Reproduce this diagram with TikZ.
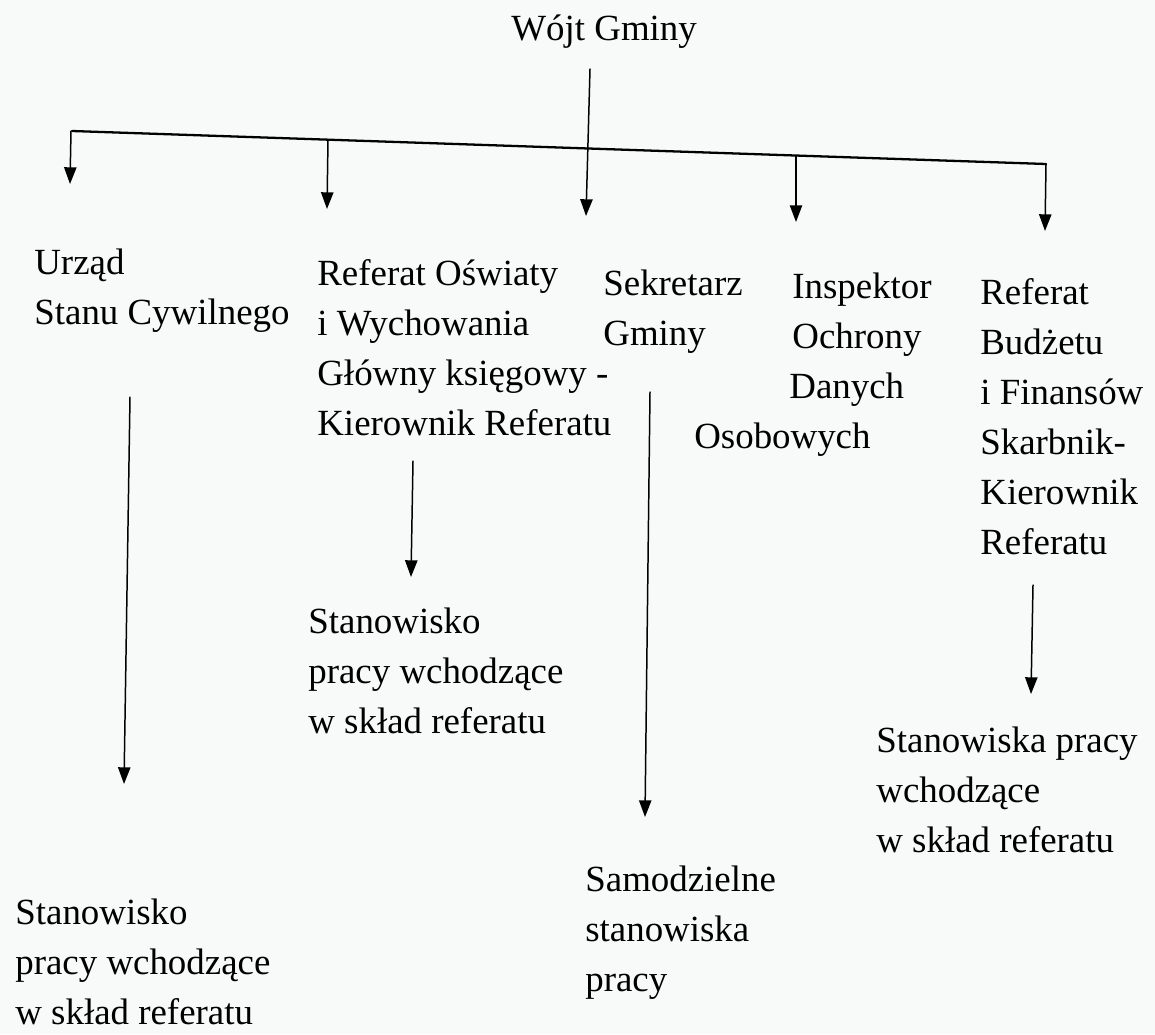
\documentclass[tikz,border=0pt]{standalone}
\usepackage{fontspec}
\setmainfont{Liberation Serif}
\usepackage{tikz}
\usetikzlibrary{arrows.meta}
\definecolor{paper}{RGB}{248,250,250}
\newcommand{\orgfont}{\fontsize{21}{28.5}\selectfont}
\tikzset{
  lbl/.style={anchor=north west,inner sep=0pt,align=left,font=\orgfont},
  bus/.style={line width=1.3pt},
  link/.style={line width=0.85pt,-{Triangle[length=9.5pt,width=7pt]}}
}

\begin{document}
\begin{tikzpicture}[line cap=round,line join=round,x=0.02cm,y=-0.02cm]
\fill[paper] (0,0) rectangle (1155,1034);
\node[lbl] (wojt) at (511,5) {\strut W\'ojt Gminy};
\node[lbl] (usc) at (34,239) {\strut Urząd\\Stanu Cywilnego};
\node[lbl] (ros) at (317,250) {\strut Referat Oświaty\\i Wychowania\\Główny księgowy -\\Kierownik Referatu};
\node[lbl] (sek) at (603,260) {\strut Sekretarz\\Gminy};
\node[lbl] (iod) at (792,263) {\strut Inspektor\\Ochrony\\\hspace*{-1.7pt}Danych\\\hspace*{-55.8pt}Osobowych};
\node[lbl] (rbf) at (980,269) {\strut Referat\\Budżetu\\i Finansów\\Skarbnik-\\Kierownik\\Referatu};
\node[lbl] (ros2) at (308,598) {\strut Stanowisko\\pracy wchodzące\\w skład referatu};
\node[lbl] (usc2) at (15,889) {\strut Stanowisko\\pracy wchodzące\\w skład referatu};
\node[lbl] (sek2) at (585,856) {\strut Samodzielne\\stanowiska\\pracy};
\node[lbl] (rbf2) at (876,717) {\strut Stanowiska pracy\\wchodzące\\w skład referatu};
\coordinate (wojtA) at (590,69);
\coordinate (wojtB) at (586,216);
\coordinate (busL) at (72,131);
\coordinate (busR) at (1046,164);
\coordinate (uscA) at (71,131);
\coordinate (uscB) at (70,184);
\coordinate (rosA) at (328,140);
\coordinate (rosB) at (327,209);
\coordinate (iodA) at (796,156);
\coordinate (iodB) at (796,222);
\coordinate (rbfA) at (1046,164);
\coordinate (rbfB) at (1045,231);
\coordinate (usc2A) at (130,397);
\coordinate (usc2B) at (124,784);
\coordinate (ros2A) at (413,461);
\coordinate (ros2B) at (411,577);
\coordinate (sek2A) at (650,392);
\coordinate (sek2B) at (645,817);
\coordinate (rbf2A) at (1033,585);
\coordinate (rbf2B) at (1031,694);
\draw[bus] (busL) -- (busR);
\draw[link] (wojtA) -- (wojtB);
\draw[link] (uscA) -- (uscB);
\draw[link] (rosA) -- (rosB);
\draw[link] (iodA) -- (iodB);
\draw[link] (rbfA) -- (rbfB);
\draw[link] (usc2A) -- (usc2B);
\draw[link] (ros2A) -- (ros2B);
\draw[link] (sek2A) -- (sek2B);
\draw[link] (rbf2A) -- (rbf2B);
\end{tikzpicture}
\end{document}
